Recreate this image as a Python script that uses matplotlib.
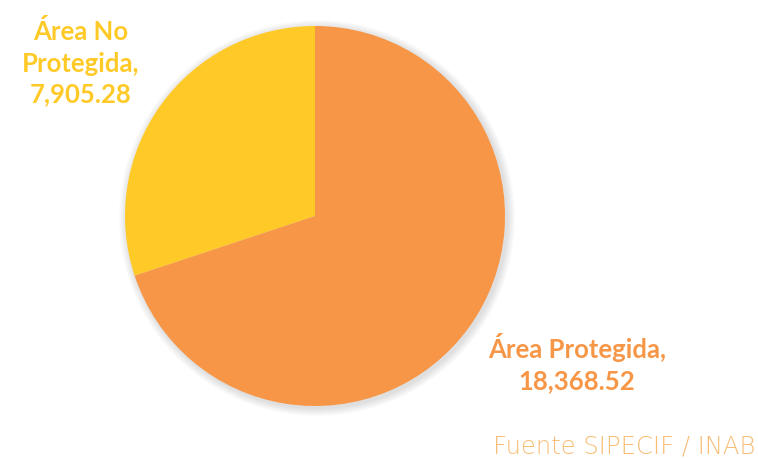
import matplotlib.pyplot as plt
import matplotlib.patches as mpatches

# Superficie por categoria
etiquetas = ['Área No\nProtegida,\n7,905.28', 'Área Protegida,\n18,368.52']
valores = [7905.28, 18368.52]
colores = ['#FFCA28', '#F79646']
fuente = 'Fuente SIPECIF / INAB'

W, H = 758, 458
fig = plt.figure(figsize=(W / 100, H / 100), dpi=100)
ax = fig.add_axes([0, 0, 1, 1])
ax.set_xlim(0, W)
ax.set_ylim(0, H)
ax.set_aspect('equal')
ax.axis('off')

cx, cy, r = 315, H - 216, 190

# Sombra suave alrededor del circulo
for i in range(8):
    ax.add_patch(mpatches.Circle((cx + 2, cy - 2), r + 1 + i, color='#000000',
                                 alpha=0.015, lw=0, zorder=0))

ax.pie(valores, colors=colores, startangle=90, counterclock=True,
       center=(cx, cy), radius=r, frame=True,
       wedgeprops=dict(linewidth=0))
ax.set_xlim(0, W)
ax.set_ylim(0, H)
ax.axis('off')

ax.text(81, H - 63, etiquetas[0], color=colores[0], fontsize=18.5,
        fontweight='bold', family='Lato', ha='center', va='center',
        linespacing=1.35)
ax.text(577, H - 363, etiquetas[1], color=colores[1], fontsize=18.5,
        fontweight='bold', family='Lato', ha='center', va='center',
        linespacing=1.35)

ax.text(755, H - 446, fuente, color='#F8BD76', fontsize=17.5,
        family='DejaVu Sans', fontweight='light', ha='right', va='center')

fig.savefig('out.png', dpi=100)
